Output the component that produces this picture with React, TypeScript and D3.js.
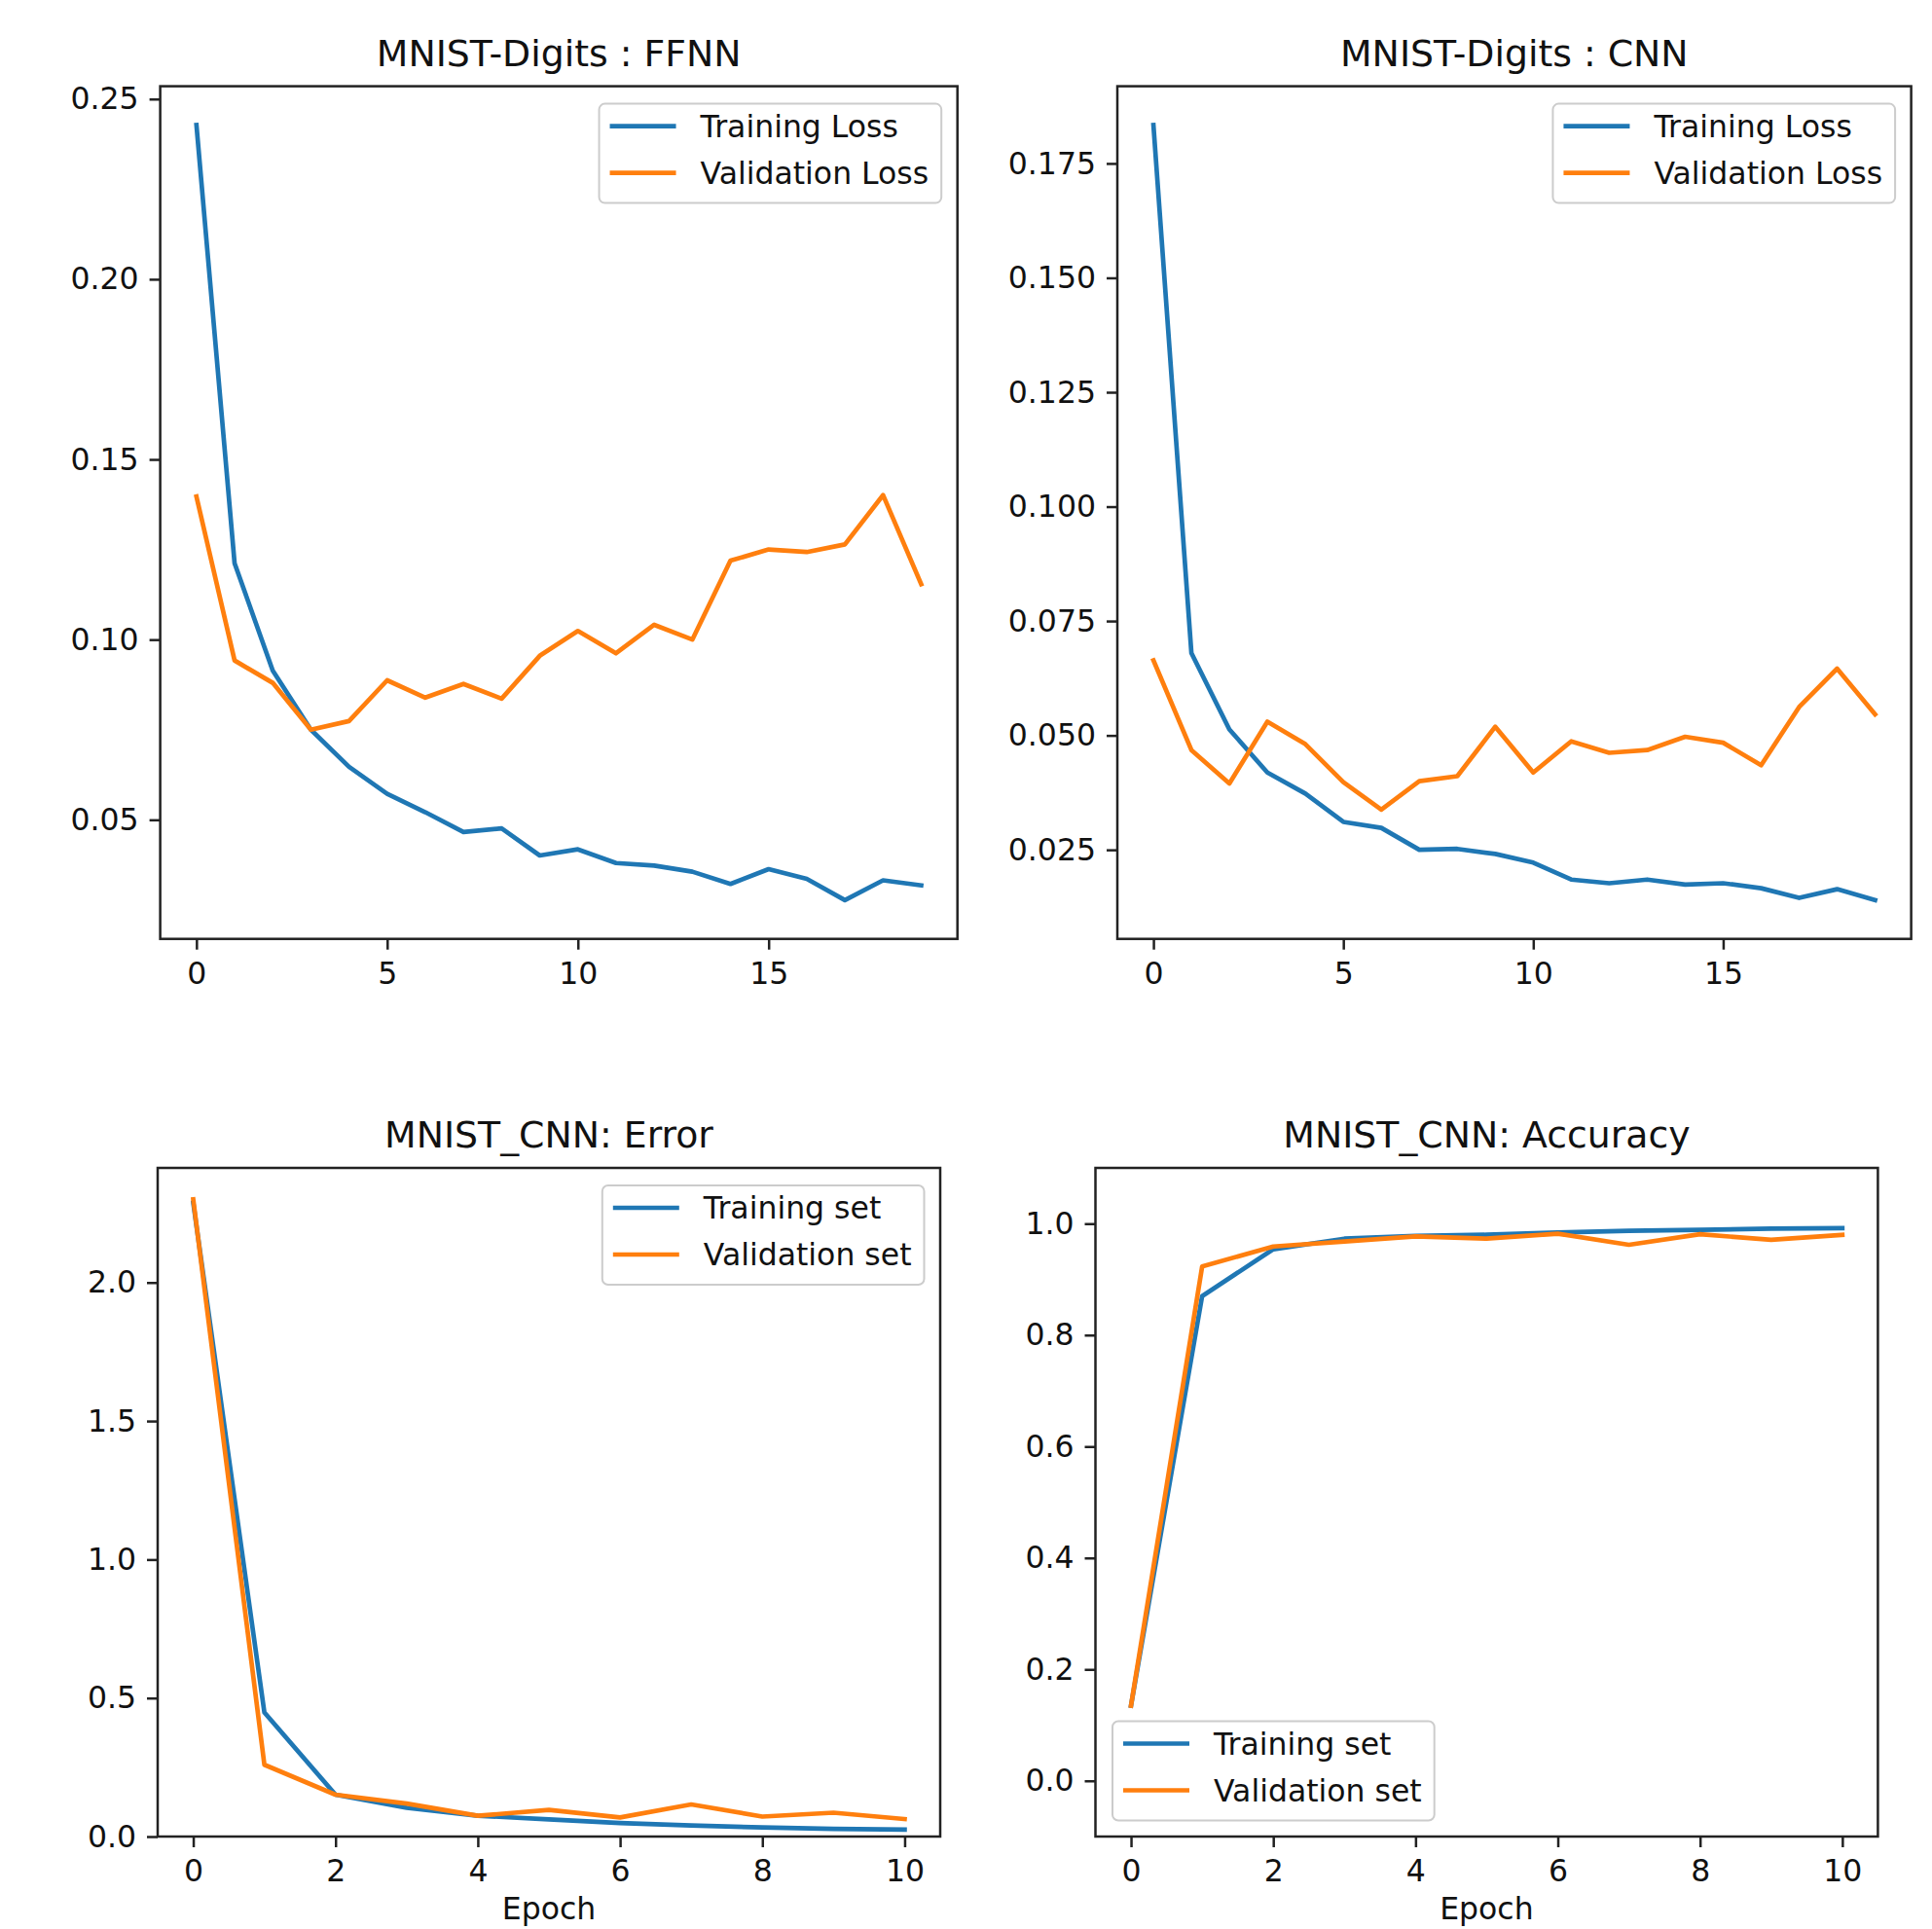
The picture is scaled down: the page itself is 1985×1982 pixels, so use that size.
import React, { useEffect, useRef } from "react";
import * as d3 from "d3";

// epochs
const epochs20 = d3.range(0, 20);
const epochs11 = d3.range(0, 11);

// MNIST-Digits : FFNN
const ffnnTrainLoss = [0.2428, 0.1212, 0.0914, 0.075, 0.0647, 0.0572, 0.0521, 0.0466, 0.0476, 0.0401, 0.0418, 0.038, 0.0373, 0.0356, 0.0322, 0.0363, 0.0336, 0.0277, 0.0332, 0.0318];
const ffnnValLoss = [0.1397, 0.0942, 0.088, 0.075, 0.0774, 0.0887, 0.0839, 0.0877, 0.0836, 0.0955, 0.1024, 0.0962, 0.1041, 0.1, 0.1219, 0.125, 0.1243, 0.1264, 0.1401, 0.1154];

// MNIST-Digits : CNN
const cnnTrainLoss = [0.1834, 0.068, 0.0513, 0.0419, 0.0373, 0.0311, 0.0298, 0.025, 0.0252, 0.0241, 0.0222, 0.0185, 0.0177, 0.0185, 0.0174, 0.0177, 0.0166, 0.0145, 0.0164, 0.014];
const cnnValLoss = [0.0664, 0.0468, 0.0395, 0.053, 0.0481, 0.0398, 0.0338, 0.04, 0.0411, 0.0519, 0.0419, 0.0487, 0.0462, 0.0468, 0.0497, 0.0484, 0.0435, 0.0562, 0.0646, 0.0546];

// MNIST_CNN: Error
const errTrain = [2.288, 0.448, 0.151, 0.104, 0.075, 0.062, 0.049, 0.04, 0.033, 0.028, 0.025];
const errVal = [2.3, 0.259, 0.151, 0.119, 0.075, 0.096, 0.069, 0.116, 0.072, 0.086, 0.063];

// MNIST_CNN: Accuracy
const accTrain = [0.135, 0.87, 0.954, 0.973, 0.978, 0.98, 0.984, 0.987, 0.989, 0.991, 0.992];
const accVal = [0.135, 0.923, 0.959, 0.968, 0.977, 0.973, 0.982, 0.962, 0.981, 0.971, 0.98];

// ticks
const xTicks20 = [0, 5, 10, 15];
const xTicks11 = [0, 2, 4, 6, 8, 10];
const ffnnYTicks = [0.05, 0.1, 0.15, 0.2, 0.25];
const cnnYTicks = [0.025, 0.05, 0.075, 0.1, 0.125, 0.15, 0.175];
const errYTicks = [0, 0.5, 1.0, 1.5, 2.0];
const accYTicks = [0, 0.2, 0.4, 0.6, 0.8, 1.0];

const lossLabels = ["Training Loss", "Validation Loss"];
const setLabels = ["Training set", "Validation set"];

const BLUE = "#1f77b4";
const ORANGE = "#ff7f0e";
const FONT = "DejaVu Sans";
const FS = 31.5;

const W = 1985;
const H = 1982;

const withMargin = (vals, m = 0.05) => {
  const [lo, hi] = d3.extent(vals);
  const r = hi - lo;
  return [lo - r * m, hi + r * m];
};

const panels = [
  {
    title: "MNIST-Digits : FFNN",
    box: { l: 164.6, r: 983.7, t: 88.6, b: 964.7 },
    x: epochs20, series: [ffnnTrainLoss, ffnnValLoss], labels: lossLabels,
    xTicks: xTicks20, yTicks: ffnnYTicks, yFmt: d3.format(".2f"),
    yDomain: withMargin([...ffnnTrainLoss, ...ffnnValLoss]),
    legend: "upper right", xlabel: null,
  },
  {
    title: "MNIST-Digits : CNN",
    box: { l: 1148, r: 1963.6, t: 88.6, b: 964.7 },
    x: epochs20, series: [cnnTrainLoss, cnnValLoss], labels: lossLabels,
    xTicks: xTicks20, yTicks: cnnYTicks, yFmt: d3.format(".3f"),
    yDomain: withMargin([...cnnTrainLoss, ...cnnValLoss]),
    legend: "upper right", xlabel: null,
  },
  {
    title: "MNIST_CNN: Error",
    box: { l: 162, r: 966, t: 1200, b: 1887 },
    x: epochs11, series: [errTrain, errVal], labels: setLabels,
    xTicks: xTicks11, yTicks: errYTicks, yFmt: d3.format(".1f"),
    yDomain: [0, withMargin([...errTrain, ...errVal])[1]],
    legend: "upper right", xlabel: "Epoch",
  },
  {
    title: "MNIST_CNN: Accuracy",
    box: { l: 1125.5, r: 1929.4, t: 1200, b: 1887 },
    x: epochs11, series: [accTrain, accVal], labels: setLabels,
    xTicks: xTicks11, yTicks: accYTicks, yFmt: d3.format(".1f"),
    yDomain: [-0.1, 1.1],
    legend: "lower left", xlabel: "Epoch",
  },
];

export default function App() {
  const svgRef = useRef(null);

  useEffect(() => {
    const svg = d3.select(svgRef.current);
    svg.selectAll("*").remove();

    panels.forEach((p) => {
      const { l, r, t, b } = p.box;
      const xScale = d3.scaleLinear().domain(withMargin(p.x)).range([l, r]);
      const yScale = d3.scaleLinear().domain(p.yDomain).range([b, t]);
      const g = svg.append("g");

      // lines
      const line = d3.line().x((d) => xScale(d[0])).y((d) => yScale(d[1]));
      p.series.forEach((vals, i) => {
        g.append("path")
          .datum(vals.map((v, k) => [p.x[k], v]))
          .attr("d", line)
          .attr("fill", "none")
          .attr("stroke", i === 0 ? BLUE : ORANGE)
          .attr("stroke-width", 4.7)
          .attr("stroke-linejoin", "round")
          .attr("stroke-linecap", "square");
      });

      // axes
      const styleAxis = (sel) => {
        sel.select(".domain").remove();
        sel.selectAll(".tick line").attr("stroke", "#222").attr("stroke-width", 2.5);
        sel.selectAll(".tick text")
          .attr("fill", "#111")
          .style("font-family", FONT)
          .style("font-size", `${FS}px`);
      };
      g.append("g")
        .attr("transform", `translate(0,${b})`)
        .call(d3.axisBottom(xScale).tickValues(p.xTicks).tickSize(11).tickPadding(13).tickFormat(d3.format("d")))
        .call(styleAxis);
      g.append("g")
        .attr("transform", `translate(${l},0)`)
        .call(d3.axisLeft(yScale).tickValues(p.yTicks).tickSize(11).tickPadding(11).tickFormat(p.yFmt))
        .call(styleAxis);

      // spines
      g.append("rect")
        .attr("x", l).attr("y", t)
        .attr("width", r - l).attr("height", b - t)
        .attr("fill", "none").attr("stroke", "#222").attr("stroke-width", 2.5);

      // title
      g.append("text")
        .attr("x", (l + r) / 2).attr("y", t - 21)
        .attr("text-anchor", "middle")
        .attr("fill", "#111")
        .style("font-family", FONT).style("font-size", "37.8px")
        .text(p.title);

      if (p.xlabel) {
        g.append("text")
          .attr("x", (l + r) / 2).attr("y", 1972)
          .attr("text-anchor", "middle")
          .attr("fill", "#111")
          .style("font-family", FONT).style("font-size", `${FS}px`)
          .text(p.xlabel);
      }

      // legend
      const lg = g.append("g");
      const frame = lg.append("rect");
      const texts = p.labels.map((lab, i) =>
        lg.append("text")
          .attr("x", 104).attr("y", 23 + i * 48 + 11)
          .style("font-family", FONT).style("font-size", `${FS}px`)
          .attr("fill", "#111")
          .text(lab)
      );
      p.labels.forEach((lab, i) => {
        lg.append("line")
          .attr("x1", 11).attr("x2", 79)
          .attr("y1", 23 + i * 48).attr("y2", 23 + i * 48)
          .attr("stroke", i === 0 ? BLUE : ORANGE)
          .attr("stroke-width", 4.7);
      });
      const tw = d3.max(texts, (tx) => tx.node().getComputedTextLength());
      const bw = 104 + tw + 13;
      const bh = 102;
      frame.attr("width", bw).attr("height", bh).attr("rx", 6)
        .attr("fill", "#fff").attr("fill-opacity", 0.8)
        .attr("stroke", "#cccccc").attr("stroke-width", 2);
      let lx, ly;
      if (p.legend === "upper right") {
        lx = r - 16.5 - bw;
        ly = t + 18;
      } else {
        lx = l + 17.5;
        ly = b - 16.5 - bh;
      }
      lg.attr("transform", `translate(${lx},${ly})`);
    });
  }, []);

  return (
    <svg
      ref={svgRef}
      width={W}
      height={H}
      style={{ position: "absolute", left: 0, top: 0, background: "#fff" }}
    />
  );
}
